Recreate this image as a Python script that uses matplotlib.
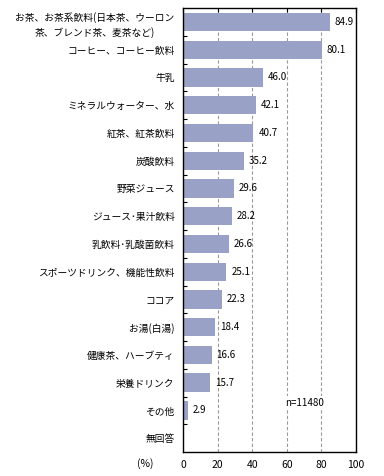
import matplotlib
matplotlib.use("Agg")
import matplotlib.pyplot as plt

plt.rcParams['font.family'] = ['Noto Sans CJK JP', 'DejaVu Sans']

# data
categories = [
    "お茶、お茶系飲料(日本茶、ウーロン\n茶、ブレンド茶、麦茶など)",
    "コーヒー、コーヒー飲料",
    "牛乳",
    "ミネラルウォーター、水",
    "紅茶、紅茶飲料",
    "炭酸飲料",
    "野菜ジュース",
    "ジュース･果汁飲料",
    "乳飲料･乳酸菌飲料",
    "スポーツドリンク、機能性飲料",
    "ココア",
    "お湯(白湯)",
    "健康茶、ハーブティ",
    "栄養ドリンク",
    "その他",
    "無回答",
]
values = [84.9, 80.1, 46.0, 42.1, 40.7, 35.2, 29.6, 28.2, 26.6, 25.1,
          22.3, 18.4, 16.6, 15.7, 2.9, None]
xticks = [0, 20, 40, 60, 80, 100]

fig = plt.figure(figsize=(3.84, 4.76), dpi=100)
ax = fig.add_axes([0.4766, 0.0504, 0.4505, 0.9326])

pos = list(range(len(categories)))
bar_vals = [v if v is not None else 0 for v in values]
ax.barh(pos, bar_vals, height=0.66, color='#99a1c6', zorder=2)

for p, v in zip(pos, values):
    if v is None:
        continue
    ax.text(v + 2.8, p, f"{v:.1f}", va='center', ha='left', fontsize=7,
            color='black', zorder=3)

ax.set_xlim(0, 100)
ax.set_ylim(len(categories) - 0.5, -0.5)
ax.set_xticks(xticks)
ax.set_xticklabels([str(t) for t in xticks], fontsize=7.5)
ax.tick_params(axis='x', direction='in', length=3, top=True, bottom=False, pad=6)

# tick marks between categories, inward
ax.set_yticks([p + 0.5 for p in pos[:-1]], minor=True)
ax.set_yticks(pos)
ax.set_yticklabels(categories, fontsize=7, multialignment='center', linespacing=1.5)
ax.tick_params(axis='y', which='major', length=0, pad=6)
ax.tick_params(axis='y', which='minor', direction='in', length=3, width=0.8)

ax.xaxis.grid(True, linestyle=(0, (3, 2)), color='#999999', linewidth=0.8, zorder=0)
ax.set_axisbelow(True)
for s in ax.spines.values():
    s.set_linewidth(1.0)
    s.set_color('black')

ax.text(70.5, 13.72, "n=11480", ha='center', va='center', fontsize=7,
        bbox=dict(facecolor='white', edgecolor='none', pad=1.5), zorder=3)
fig.text(145 / 384, 1 - 464 / 476, "(%)", ha='center', va='center', fontsize=7.5)

fig.savefig("out.png", dpi=100)
